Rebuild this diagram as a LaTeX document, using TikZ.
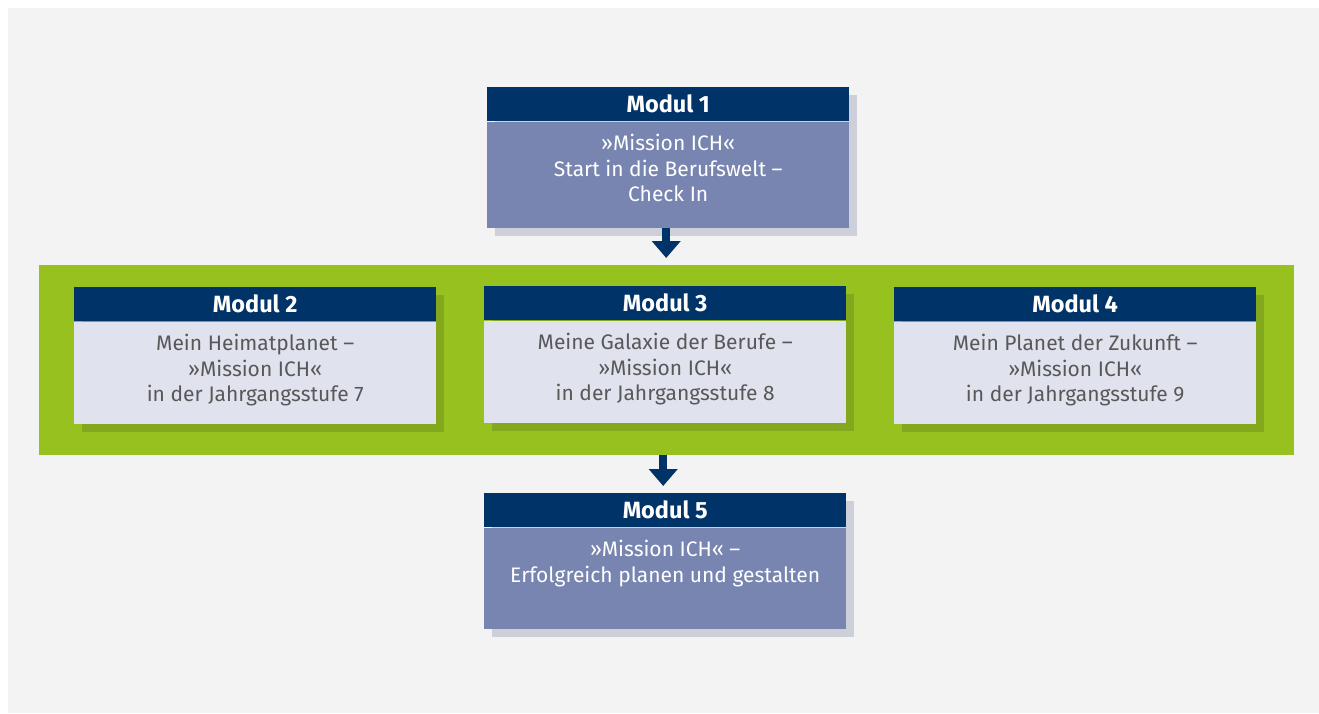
\documentclass[tikz,border=0pt]{standalone}
\usepackage{fontspec}
\setmainfont{Fira Sans}
\usetikzlibrary{arrows.meta,backgrounds}
\definecolor{bgc}{RGB}{243,243,243}
\definecolor{navy}{RGB}{0,51,104}
\definecolor{bodyblue}{RGB}{120,133,176}
\definecolor{bodylight}{RGB}{224,226,238}
\definecolor{greenc}{RGB}{151,193,31}
\definecolor{greenshadow}{RGB}{131,168,30}
\definecolor{greyshadow}{RGB}{205,208,217}
\definecolor{txtgrey}{RGB}{88,88,88}
\tikzset{
  hdr/.style={fill=navy, text=white, font=\fontsize{23.5}{27}\selectfont\bfseries, minimum width=362pt, minimum height=34pt, inner sep=0pt, anchor=north west},
  bodyb/.style={fill=bodyblue, minimum width=362pt, minimum height=106pt, inner sep=0pt, anchor=north west},
  bodyl/.style={fill=bodylight, minimum width=362pt, minimum height=102pt, inner sep=0pt, anchor=north west},
  txtw/.style={text=white, font=\fontsize{21}{25.5}\selectfont, align=center, anchor=north, inner sep=0pt},
  txtg/.style={text=txtgrey, font=\fontsize{21}{25.5}\selectfont, align=center, anchor=north, inner sep=0pt},
  flow/.style={draw=navy, line width=8pt, -{Triangle[width=28pt,length=17pt]}},
}
\begin{document}
\begin{tikzpicture}[x=1pt,y=-1pt]
\useasboundingbox (0,0) rectangle (1319,713);
% green band (filled on the background layer)
\node[minimum width=1255pt, minimum height=190pt, inner sep=0pt, anchor=north west] (band) at (39,265) {};
% Module 1
\node[hdr] (h1) at (487,87) {Modul 1};
\node[bodyb, minimum height=106pt] (b1) at (h1.south west) {};
\node[txtw] (t1) at ([shift={(0,13)}]b1.north) {»Mission ICH«\\Start in die Berufswelt –\\Check In};
% Module 2
\node[hdr] (h2) at (74,287) {Modul 2};
\node[bodyl] (b2) at (h2.south west) {};
\node[txtg] (t2) at ([shift={(0,13)}]b2.north) {Mein Heimatplanet –\\»Mission ICH«\\in der Jahrgangsstufe 7};
% Module 3
\node[hdr] (h3) at (484,286) {Modul 3};
\node[bodyl] (b3) at (h3.south west) {};
\node[txtg] (t3) at ([shift={(0,13)}]b3.north) {Meine Galaxie der Berufe –\\»Mission ICH«\\in der Jahrgangsstufe 8};
% Module 4
\node[hdr] (h4) at (894,287) {Modul 4};
\node[bodyl] (b4) at (h4.south west) {};
\node[txtg] (t4) at ([shift={(0,13)}]b4.north) {Mein Planet der Zukunft –\\»Mission ICH«\\in der Jahrgangsstufe 9};
% Module 5
\node[hdr] (h5) at (484,493) {Modul 5};
\node[bodyb, minimum height=101pt] (b5) at (h5.south west) {};
\node[txtw] (t5) at ([shift={(0,13)}]b5.north) {»Mission ICH« –\\Erfolgreich planen und gestalten};
% background layer: page, band, shadows
\begin{scope}[on background layer]
  \fill[bgc] (8,8) rectangle (1319,713);
  \fill[greenc] (band.north west) rectangle (band.south east);
  \fill[greyshadow] ([shift={(8,8)}]h1.north west) rectangle ([shift={(8,8)}]b1.south east);
  \fill[greyshadow] ([shift={(8,8)}]h5.north west) rectangle ([shift={(8,8)}]b5.south east);
  \fill[greenshadow] ([shift={(8,8)}]h2.north west) rectangle ([shift={(8,8)}]b2.south east);
  \fill[greenshadow] ([shift={(8,8)}]h3.north west) rectangle ([shift={(8,8)}]b3.south east);
  \fill[greenshadow] ([shift={(8,8)}]h4.north west) rectangle ([shift={(8,8)}]b4.south east);
\end{scope}
% arrows
\draw[flow, shorten >=7pt] ([xshift=-2pt]b1.south) -- ([xshift=-2pt]b1.south |- band.north);
\draw[flow, shorten >=7pt] ([xshift=-2pt]band.south -| h5.south) -- ([xshift=-2pt]h5.north);
\end{tikzpicture}
\end{document}
